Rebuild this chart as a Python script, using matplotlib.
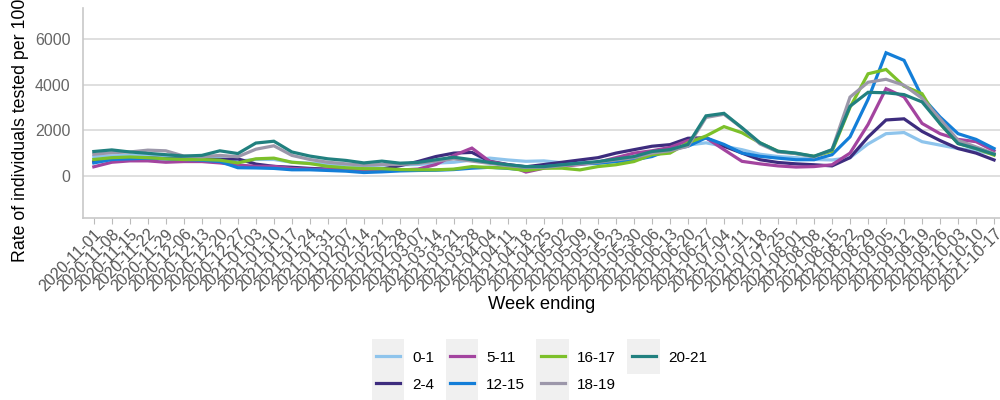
import pandas as pd
import matplotlib
matplotlib.use('Agg')
import matplotlib.pyplot as plt
from matplotlib.legend_handler import HandlerLine2D
from matplotlib.patches import Rectangle

plt.rcParams['font.family'] = ['Liberation Sans', 'DejaVu Sans']

# week ending dates
weeks = pd.date_range('2020-11-01', '2021-10-17', freq='7D').strftime('%Y-%m-%d').tolist()

age_groups = ['0-1', '2-4', '5-11', '12-15', '16-17', '18-19', '20-21']
colours = ['#8ec4ec', '#3d2c7e', '#a3449f', '#137ed8', '#7cc02a', '#9c97aa', '#21807f']

rate_0_1 = [850, 880, 900, 880, 850, 800, 780, 760, 650, 720, 720, 600, 560, 520, 480, 440, 480,
            480, 500, 560, 600, 700, 780, 700, 640, 660, 580, 520, 540, 640, 700, 900, 1100, 1350,
            1450, 1300, 1150, 950, 850, 800, 720, 700, 800, 1400, 1850, 1900, 1500, 1350, 1200, 1100, 950]
rate_2_4 = [620, 750, 800, 780, 760, 740, 720, 720, 750, 520, 420, 380, 330, 300, 280, 260, 300,
            450, 630, 850, 1000, 1030, 640, 500, 400, 500, 600, 700, 800, 1000, 1150, 1300, 1370, 1650,
            1670, 1300, 1000, 710, 590, 530, 490, 440, 800, 1700, 2450, 2500, 1950, 1550, 1200, 1000, 700]
rate_5_11 = [400, 600, 660, 660, 600, 630, 630, 570, 480, 420, 420, 330, 300, 280, 260, 240, 260,
             260, 300, 500, 900, 1220, 630, 480, 170, 340, 420, 500, 600, 800, 1000, 1100, 1250, 1550,
             1670, 1150, 640, 530, 440, 390, 410, 490, 1000, 2250, 3820, 3460, 2300, 1850, 1600, 1500, 1100]
rate_12_15 = [570, 720, 750, 780, 750, 720, 690, 630, 360, 350, 330, 270, 270, 240, 210, 150, 180,
              220, 240, 250, 280, 340, 380, 330, 265, 410, 480, 560, 560, 630, 700, 850, 1150, 1300,
              1670, 1380, 1000, 860, 780, 710, 710, 930, 1710, 3350, 5390, 5060, 3460, 2580, 1850, 1600, 1200]
rate_16_17 = [720, 800, 830, 800, 750, 720, 720, 690, 570, 750, 780, 600, 540, 420, 360, 320, 320,
              280, 270, 270, 300, 410, 370, 340, 235, 340, 340, 265, 410, 490, 630, 930, 1000, 1450,
              1750, 2160, 1890, 1450, 1080, 980, 860, 1080, 3000, 4470, 4660, 3930, 3600, 2290, 1420, 1200, 910]
rate_18_19 = [950, 1020, 1050, 1130, 1100, 870, 840, 900, 840, 1170, 1320, 900, 720, 600, 530, 470, 500,
              500, 550, 650, 750, 650, 550, 450, 380, 380, 450, 520, 600, 700, 800, 1000, 1100, 1300,
              2560, 2700, 2100, 1400, 1050, 980, 830, 1150, 3450, 4100, 4230, 3970, 3400, 2500, 1560, 1270, 980]
rate_20_21 = [1070, 1140, 1050, 990, 930, 870, 900, 1100, 980, 1440, 1520, 1050, 870, 750, 680, 570, 650,
              560, 590, 710, 820, 710, 590, 490, 410, 410, 490, 560, 630, 740, 850, 1070, 1150, 1380,
              2630, 2740, 2110, 1450, 1080, 1000, 860, 1150, 3050, 3660, 3640, 3560, 3240, 2290, 1420, 1200, 950]

series = [rate_0_1, rate_2_4, rate_5_11, rate_12_15, rate_16_17, rate_18_19, rate_20_21]


class KeyHandler(HandlerLine2D):
    # legend key with a light grey box behind the line
    def create_artists(self, legend, orig_handle, xdescent, ydescent, width, height, fontsize, trans):
        arts = super().create_artists(legend, orig_handle, xdescent, ydescent, width, height, fontsize, trans)
        bg = Rectangle((-xdescent - 3, -ydescent - 8.5), width + 6, height + 17,
                       facecolor='#f0f0f0', edgecolor='none', transform=trans, zorder=0)
        return [bg] + list(arts)


fig = plt.figure(figsize=(10, 4), dpi=100)
ax = fig.add_axes([0.083, 0.455, 0.917, 0.525])

x = range(len(weeks))
for lab, col, vals in zip(age_groups, colours, series):
    ax.plot(x, vals, color=col, lw=2.3, label=lab, solid_joinstyle='miter')

ax.set_xlim(-0.6, 50.33)
ax.set_ylim(-1840, 7350)
ax.set_yticks([0, 2000, 4000, 6000])
ax.set_xticks(list(x))
ax.set_xticklabels(weeks, rotation=45, ha='right', rotation_mode='anchor')
ax.tick_params(axis='x', length=4, color='#bbbbbb', labelsize=11.5, labelcolor='#555555', pad=2)
ax.tick_params(axis='y', length=0, labelsize=11.5, labelcolor='#666666', pad=9)
ax.grid(axis='y', color='#d9d9d9', lw=1.2)
ax.set_axisbelow(True)
for s in ['top', 'right']:
    ax.spines[s].set_visible(False)
for s in ['left', 'bottom']:
    ax.spines[s].set_color('#c8c8c8')
    ax.spines[s].set_linewidth(1.2)

ax.set_ylabel('Rate of individuals tested per 100,000', fontsize=12.8, labelpad=4)
ax.set_xlabel('Week ending', fontsize=13.2, labelpad=1)

leg = ax.legend(loc='center', bbox_to_anchor=(0.5, -0.73), ncol=4, frameon=False,
                handlelength=1.6, handletextpad=0.8, columnspacing=1.0, labelspacing=0.85,
                fontsize=11, handler_map={plt.Line2D: KeyHandler()})

fig.savefig('out.png', dpi=100)
